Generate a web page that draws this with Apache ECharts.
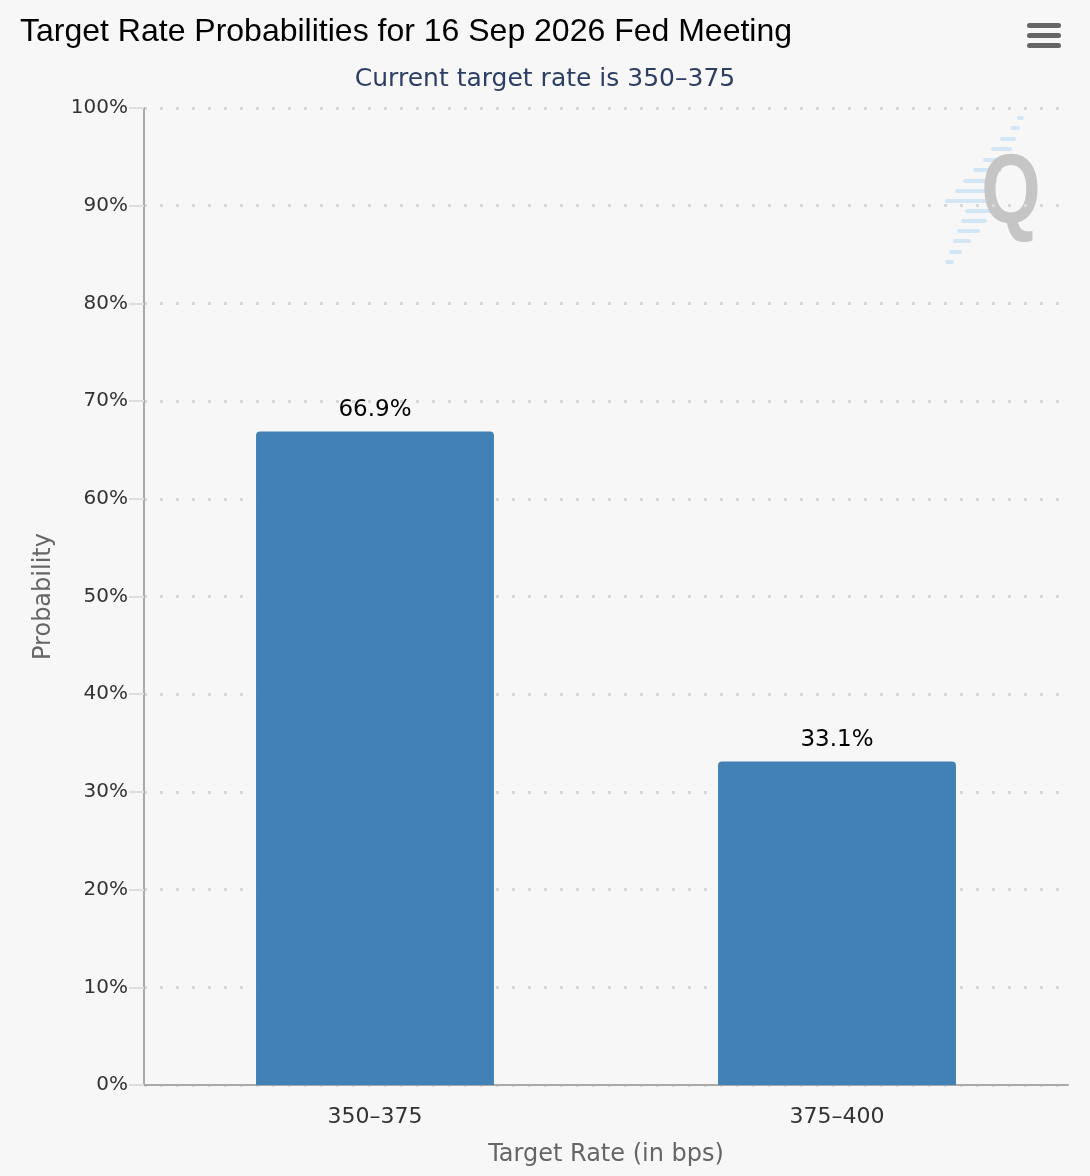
<!DOCTYPE html>
<html><head><meta charset="utf-8">
<script src="https://cdn.jsdelivr.net/npm/echarts@6/dist/echarts.min.js"></script>
<style>html,body{margin:0;padding:0;background:#f7f7f7;}#c{width:1090px;height:1176px;}</style>
</head><body><div id="c"></div>
<script>
const categories = ['350–375', '375–400'];
const probabilities = [66.9, 33.1];
const yTicks = [0, 10, 20, 30, 40, 50, 60, 70, 80, 90, 100];

const chart = echarts.init(document.getElementById('c'));
const FONT = 'DejaVu Sans';
// decorative logo stripes [y, xLeft, xRight]
const stripes = [
  [118, 1019, 1022], [128, 1012, 1018], [139, 1002, 1014], [149, 993, 1010],
  [160, 985, 1005], [170, 975, 1000], [181, 965, 995], [191, 957, 992],
  [201, 947, 990], [211, 967, 990], [221, 963, 985], [231, 959, 978],
  [241, 955, 969], [252, 951, 960], [262, 947, 952]
];
const logo = stripes.map(s => ({type:'line', silent:true,
  shape:{x1:s[1], y1:s[0], x2:s[2], y2:s[0]},
  style:{stroke:'#d3e6f6', lineWidth:4, lineCap:'round'}}));
chart.setOption({
  backgroundColor: '#f7f7f7',
  animation: false,
  title: [
    {text: 'Target Rate Probabilities for 16 Sep 2026 Fed Meeting', left: 15, top: 11,
     textStyle: {fontFamily: 'Liberation Sans', fontSize: 32, fontWeight: 'normal', color: '#000'}},
    {text: 'Current target rate is 350–375', left: 'center', top: 62,
     textStyle: {fontFamily: FONT, fontSize: 25, fontWeight: 'normal', color: '#2c3e64'}}
  ],
  graphic: [
    ...logo,
    {type:'text', x: 1011, y: 196, scaleX: 0.78, silent:true,
     style:{text:'Q', x:0, y:0, align:'center', verticalAlign:'middle', font:'bold 98px "Liberation Sans"', fill:'#c5c5c5'}},
    {type:'rect', shape:{x:1027, y:23, width:34, height:5, r:2.5}, style:{fill:'#666'}},
    {type:'rect', shape:{x:1027, y:33, width:34, height:5, r:2.5}, style:{fill:'#666'}},
    {type:'rect', shape:{x:1027, y:43, width:34, height:5, r:2.5}, style:{fill:'#666'}}
  ],
  grid: {left: 144, right: 22, top: 108, bottom: 91, containLabel: false},
  xAxis: {
    type: 'category', data: categories,
    name: 'Target Rate (in bps)', nameLocation: 'middle', nameGap: 58,
    nameTextStyle: {fontFamily: FONT, fontSize: 24, color: '#666'},
    axisLine: {lineStyle: {color: '#aaa', width: 2}},
    axisTick: {alignWithLabel: true, length: 14, lineStyle: {color: '#ddd', width: 2}},
    axisLabel: {fontFamily: FONT, fontSize: 22, color: '#333', margin: 21}
  },
  yAxis: {
    type: 'value', min: 0, max: 100, interval: 10,
    name: 'Probability', nameLocation: 'middle', nameGap: 88, nameRotate: 90,
    nameTextStyle: {fontFamily: FONT, fontSize: 24, color: '#666'},
    axisLine: {show: true, lineStyle: {color: '#aaa', width: 2}},
    axisTick: {show: true, length: 15, lineStyle: {color: '#ddd', width: 2}},
    axisLabel: {fontFamily: FONT, fontSize: 20, color: '#333', margin: 16,
      formatter: v => yTicks.includes(v) ? v + '%' : ''},
    splitLine: {show: true, lineStyle: {color: '#d8d8d8', width: 3, type: [3, 13]}}
  },
  series: [{
    type: 'bar', data: probabilities, barWidth: '51.5%',
    itemStyle: {color: '#4281b5', borderRadius: [4, 4, 0, 0]},
    label: {show: true, position: 'top', distance: 10, formatter: p => p.value.toFixed(1) + '%',
      fontFamily: FONT, fontSize: 23, color: '#000'}
  }]
});
</script></body></html>
